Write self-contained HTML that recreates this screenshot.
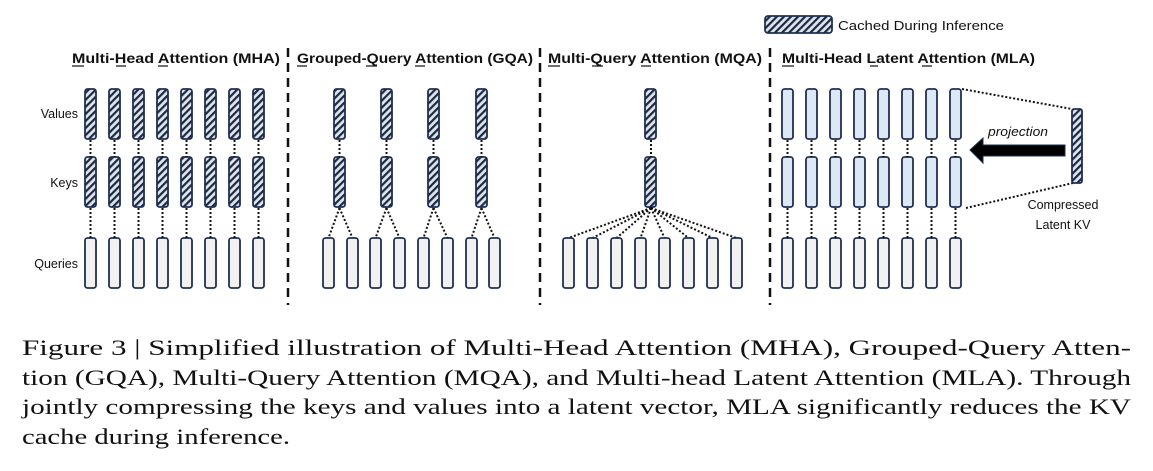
<!DOCTYPE html>
<html><head><meta charset="utf-8"><style>
html,body{margin:0;padding:0;background:#fff;}
svg{display:block;}
.t{font-family:"Liberation Sans",sans-serif;font-weight:bold;font-size:13.5px;fill:#111;}
.l{font-family:"Liberation Sans",sans-serif;font-size:12.5px;fill:#111;}
.c{font-family:"Liberation Serif",serif;font-size:22.5px;fill:#111;}
</style></head><body>
<svg id="s" width="1153" height="471" viewBox="0 0 1153 471" xmlns="http://www.w3.org/2000/svg">
<defs>
<pattern id="h" patternUnits="userSpaceOnUse" width="5" height="5" patternTransform="rotate(45)">
<rect width="5" height="5" fill="#dfe5ee"/><rect width="2.2" height="5" fill="#1c2a40"/>
</pattern>
</defs>
<g id="g"></g>
<!-- legend -->
<rect x="765" y="16" width="67" height="17" rx="3" fill="url(#h)" stroke="#1f3050" stroke-width="1.8"/>
<text class="l" x="838" y="30" textLength="166" lengthAdjust="spacingAndGlyphs">Cached During Inference</text>
<!-- titles -->
<text class="t" x="72" y="63" textLength="208" lengthAdjust="spacingAndGlyphs">Multi-Head Attention (MHA)</text>
<text class="t" x="297" y="63" textLength="236" lengthAdjust="spacingAndGlyphs">Grouped-Query Attention (GQA)</text>
<text class="t" x="548" y="63" textLength="214" lengthAdjust="spacingAndGlyphs">Multi-Query Attention (MQA)</text>
<text class="t" x="782" y="63" textLength="253" lengthAdjust="spacingAndGlyphs">Multi-Head Latent Attention (MLA)</text>
<g stroke="#111" stroke-width="1.2">
<line x1="72" y1="66" x2="84" y2="66"/><line x1="116" y1="66" x2="126" y2="66"/><line x1="158" y1="66" x2="168" y2="66"/>
<line x1="297" y1="66" x2="307" y2="66"/><line x1="366" y1="66" x2="377" y2="66"/><line x1="415" y1="66" x2="425" y2="66"/>
<line x1="548" y1="66" x2="560" y2="66"/><line x1="592" y1="66" x2="603" y2="66"/><line x1="641" y1="66" x2="651" y2="66"/>
<line x1="782" y1="66" x2="794" y2="66"/><line x1="870" y1="66" x2="878" y2="66"/><line x1="922" y1="66" x2="932" y2="66"/>
</g>
<!-- row labels -->
<text class="l" x="78" y="118" text-anchor="end">Values</text>
<text class="l" x="78" y="187" text-anchor="end">Keys</text>
<text class="l" x="78" y="268" text-anchor="end">Queries</text>
<!-- dividers -->
<g stroke="#111" stroke-width="2.5" stroke-dasharray="9,6">
<line x1="288" y1="48" x2="288" y2="305"/><line x1="540" y1="48" x2="540" y2="305"/><line x1="770" y1="48" x2="770" y2="305"/>
</g>
<!-- MLA extras -->
<g stroke="#111" stroke-width="2" stroke-dasharray="2,2" fill="none">
<line x1="962" y1="89" x2="1072" y2="109"/><line x1="966" y1="208" x2="1073" y2="183"/>
</g>
<rect x="1072" y="109" width="10" height="74" rx="2" fill="url(#h)" stroke="#1f3050" stroke-width="1.8"/>
<polygon points="970,150 983,138 983,145 1065,145 1065,156 983,156 983,163" fill="#000" stroke="#1f3050" stroke-width="1"/>
<text class="l" x="988" y="136" font-style="italic" textLength="60" lengthAdjust="spacingAndGlyphs">projection</text>
<text class="l" x="1063" y="209" text-anchor="middle">Compressed</text>
<text class="l" x="1063" y="229" text-anchor="middle">Latent KV</text>
<!-- caption -->
<text class="c" x="22" y="355" textLength="1109" lengthAdjust="spacingAndGlyphs">Figure 3 | Simplified illustration of Multi-Head Attention (MHA), Grouped-Query Atten-</text>
<text class="c" x="22" y="385" textLength="1109" lengthAdjust="spacingAndGlyphs">tion (GQA), Multi-Query Attention (MQA), and Multi-head Latent Attention (MLA). Through</text>
<text class="c" x="22" y="414" textLength="1109" lengthAdjust="spacingAndGlyphs">jointly compressing the keys and values into a latent vector, MLA significantly reduces the KV</text>
<text class="c" x="22" y="444" textLength="268" lengthAdjust="spacingAndGlyphs">cache during inference.</text>
</svg>
<script>
var g=document.getElementById('g'),NS='http://www.w3.org/2000/svg',h='';
function bar(x,y,f){h+='<rect x="'+x+'" y="'+y+'" width="11" height="50" rx="2.5" fill="'+f+'" stroke="#1f3050" stroke-width="1.8"/>';}
function dl(x1,y1,x2,y2){h+='<line x1="'+x1+'" y1="'+y1+'" x2="'+x2+'" y2="'+y2+'" stroke="#111" stroke-width="2" stroke-dasharray="2,2"/>';}
var H='url(#h)',Q='#f1f1f1',B='#dde8f5';
for(var i=0;i<8;i++){var x=85+i*24;bar(x,89,H);bar(x,157,H);bar(x,238,Q);dl(x+5.5,140,x+5.5,157);dl(x+5.5,208,x+5.5,238);}
var gv=[334,381,428,476],gq=[323,347,370,394,418,442,466,489];
for(var i=0;i<4;i++){var x=gv[i];bar(x,89,H);bar(x,157,H);dl(x+5.5,140,x+5.5,157);dl(x+5.5,208,gq[2*i]+5.5,238);dl(x+5.5,208,gq[2*i+1]+5.5,238);}
for(var i=0;i<8;i++)bar(gq[i],238,Q);
bar(645,89,H);bar(645,157,H);dl(651,140,651,157);
for(var i=0;i<8;i++){var x=563+i*24;dl(651,208,x+5.5,238);bar(x,238,Q);}
for(var i=0;i<8;i++){var x=782+i*24;bar(x,89,B);bar(x,157,B);bar(x,238,Q);dl(x+5.5,140,x+5.5,157);dl(x+5.5,208,x+5.5,238);}
g.innerHTML=h;
</script>
</body></html>
